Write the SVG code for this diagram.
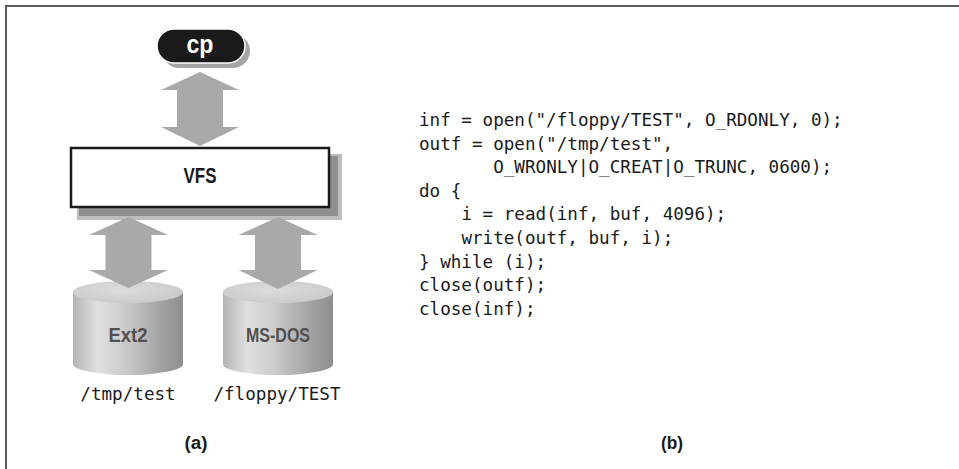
<svg xmlns="http://www.w3.org/2000/svg" width="959" height="469" viewBox="0 0 959 469">
  <defs>
    <linearGradient id="cylSide" x1="0" y1="0" x2="1" y2="0">
      <stop offset="0" stop-color="#b4b4b4"/>
      <stop offset="0.22" stop-color="#e0e0e0"/>
      <stop offset="0.45" stop-color="#cdcdcd"/>
      <stop offset="0.8" stop-color="#a2a2a2"/>
      <stop offset="1" stop-color="#8e8e8e"/>
    </linearGradient>
    <radialGradient id="cylTop" cx="0.45" cy="0.4" r="0.7">
      <stop offset="0" stop-color="#dcdcdc"/>
      <stop offset="1" stop-color="#c8c8c8"/>
    </radialGradient>
  </defs>
  <style>
    .frame { stroke: #5a5a5a; stroke-width: 2; fill: none; }
    .arrow { fill: #a9a9a9; }
    .shadowOuter { fill: #bdbdbd; }
    .shadowInner { fill: #8e8e8e; }
    .box { fill: #ffffff; stroke: #1a1a1a; stroke-width: 2.5; }
    .cond { font-family: "Liberation Sans Narrow", "Liberation Sans", Arial, sans-serif; font-weight: bold; text-anchor: middle; }
    .cyllabel { fill: #505050; }
    .mono { font-family: "DejaVu Sans Mono", "Liberation Mono", monospace; font-size: 17.6px; fill: #1a1a1a; }
    .center { text-anchor: middle; }
  </style>

  <rect width="959" height="469" fill="#ffffff"/>

  <g id="frame">
    <line class="frame" x1="5" y1="6" x2="959" y2="6"/>
    <line class="frame" x1="6" y1="5" x2="6" y2="469"/>
  </g>

  <g id="node-cp">
    <rect x="162" y="34" width="88" height="34" rx="17" fill="#a5a5a5"/>
    <rect x="157" y="29" width="88" height="34" rx="17" fill="#1a1a1a" stroke="#ffffff" stroke-width="1.5"/>
    <text class="cond" x="200" y="53" font-size="26" fill="#ffffff" textLength="27" lengthAdjust="spacingAndGlyphs">cp</text>
  </g>

  <g id="node-vfs">
    <rect class="shadowOuter" x="77" y="154" width="265" height="66"/>
    <rect class="shadowInner" x="79" y="156" width="259" height="60"/>
    <rect class="box" x="71" y="148" width="258" height="59"/>
    <text class="cond" x="200" y="183" font-size="22" fill="#1a1a1a" textLength="33" lengthAdjust="spacingAndGlyphs">VFS</text>
  </g>

  <g id="node-ext2">
    <path d="M73,292 V364 A55,11 0 0 0 183,364 V292 Z" fill="url(#cylSide)"/>
    <ellipse cx="128" cy="292" rx="55" ry="11" fill="url(#cylTop)"/>
    <text class="cond cyllabel" x="128" y="342" font-size="20" textLength="39" lengthAdjust="spacingAndGlyphs">Ext2</text>
    <text class="mono center" x="128" y="400">/tmp/test</text>
  </g>

  <g id="node-msdos">
    <path d="M223,292 V364 A55,11 0 0 0 333,364 V292 Z" fill="url(#cylSide)"/>
    <ellipse cx="278" cy="292" rx="55" ry="11" fill="url(#cylTop)"/>
    <text class="cond cyllabel" x="278" y="342" font-size="20.5" textLength="64" lengthAdjust="spacingAndGlyphs">MS-DOS</text>
    <text class="mono center" x="277" y="400">/floppy/TEST</text>
  </g>

  <g id="connectors">
    <polygon class="arrow" points="200,72 239,90 223,90 223,127 239,127 200,146 161,127 177,127 177,90 161,90"/>
    <polygon class="arrow" points="128.5,217 168,235 151.5,235 151.5,270 168,270 128.5,288 89,270 105.5,270 105.5,235 89,235"/>
    <polygon class="arrow" points="278,217 317.5,235 301,235 301,270 317.5,270 278,289 238.5,270 255,270 255,235 238.5,235"/>
  </g>

  <g id="code">
    <text class="mono" x="419" y="126">inf = open("/floppy/TEST", O_RDONLY, 0);</text>
    <text class="mono" x="419" y="149.6">outf = open("/tmp/test",</text>
    <text class="mono" x="493.2" y="173.2">O_WRONLY|O_CREAT|O_TRUNC, 0600);</text>
    <text class="mono" x="419" y="196.8">do {</text>
    <text class="mono" x="461.4" y="220.4">i = read(inf, buf, 4096);</text>
    <text class="mono" x="461.4" y="244">write(outf, buf, i);</text>
    <text class="mono" x="419" y="267.6">} while (i);</text>
    <text class="mono" x="419" y="291.2">close(outf);</text>
    <text class="mono" x="419" y="314.8">close(inf);</text>
  </g>

  <g id="captions">
    <text class="cond" x="196" y="449" font-size="18" fill="#1a1a1a" textLength="23" lengthAdjust="spacingAndGlyphs">(a)</text>
    <text class="cond" x="672" y="449" font-size="18" fill="#1a1a1a" textLength="22" lengthAdjust="spacingAndGlyphs">(b)</text>
  </g>
</svg>
